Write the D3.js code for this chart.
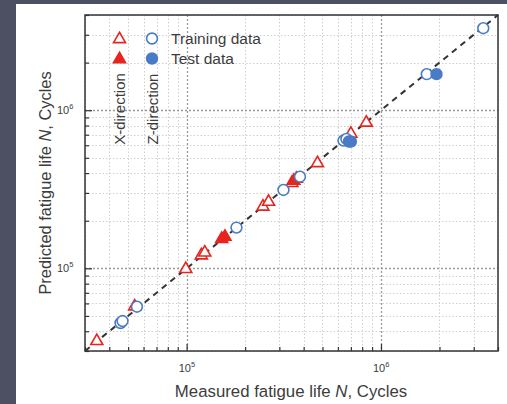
<!doctype html>
<html>
<head>
    <style>
        html, body { margin: 0; padding: 0; background: #4d4f63; }
        #panel { position: absolute; left: 16px; top: 4px; width: 491px; height: 400px; background: #fff; }
        svg { position: absolute; left: 0; top: 0; }
        text { font-family: "Liberation Sans", Arial, sans-serif; fill: #3c3c3c; }
    </style>
</head>
<body>
    <div id="panel"></div>
    <svg id="chart" width="507" height="404"></svg>
    <script src="https://cdnjs.cloudflare.com/ajax/libs/d3/7.8.5/d3.min.js"></script>
    <script>
        // X-direction (triangles) and Z-direction (circles), measured vs predicted cycles
        var xTrainMeasured = [34500, 54000, 99000, 119000, 124000, 247000, 264000, 348000, 471000, 700000, 840000];
        var xTrainPredicted = [35000, 58000, 100000, 122000, 127000, 248000, 266000, 350000, 467000, 717000, 842000];
        var xTestMeasured = [151500, 157500, 356000, 367000];
        var xTestPredicted = [155000, 160000, 362000, 372000];
        var zTrainMeasured = [45700, 46800, 55500, 180500, 315000, 383000, 641000, 664000, 1720000, 3360000];
        var zTrainPredicted = [45100, 46400, 57200, 181000, 313000, 380000, 643000, 658000, 1690000, 3300000];
        var zTestMeasured = [684000, 700000, 1930000];
        var zTestPredicted = [634000, 634000, 1690000];
        var domainMin = 3e4, domainMax = 4e6;
        var majorTicks = [1e5, 1e6];

        var pLeft = 85, pTop = 15, pRight = 498, pBottom = 351;
        var red = '#e8241f', blue = '#4a7bc6';

        var svg = d3.select('#chart');
        var x = d3.scaleLog().domain([domainMin, domainMax]).range([pLeft, pRight]);
        var y = d3.scaleLog().domain([domainMin, domainMax]).range([pBottom, pTop]);

        var allTicks = x.ticks().filter(function(t) { return t >= domainMin && t <= domainMax; });
        var minorTicks = allTicks.filter(function(t) { return majorTicks.indexOf(t) < 0; });

        var grid = svg.append('g');
        grid.selectAll('line.vmin').data(minorTicks).enter().append('line')
            .attr('x1', function(d) { return Math.round(x(d)) + 0.5; })
            .attr('x2', function(d) { return Math.round(x(d)) + 0.5; })
            .attr('y1', pTop).attr('y2', pBottom)
            .attr('stroke', '#cfcfcf').attr('stroke-dasharray', '1.5,2');
        grid.selectAll('line.hmin').data(minorTicks).enter().append('line')
            .attr('y1', function(d) { return Math.round(y(d)) + 0.5; })
            .attr('y2', function(d) { return Math.round(y(d)) + 0.5; })
            .attr('x1', pLeft).attr('x2', pRight)
            .attr('stroke', '#cfcfcf').attr('stroke-dasharray', '1.5,2');
        grid.selectAll('line.vmaj').data(majorTicks).enter().append('line')
            .attr('x1', function(d) { return Math.round(x(d)) + 0.5; })
            .attr('x2', function(d) { return Math.round(x(d)) + 0.5; })
            .attr('y1', pTop).attr('y2', pBottom)
            .attr('stroke', '#999').attr('stroke-width', 1.3).attr('stroke-dasharray', '2,2');
        grid.selectAll('line.hmaj').data(majorTicks).enter().append('line')
            .attr('y1', function(d) { return Math.round(y(d)) + 0.5; })
            .attr('y2', function(d) { return Math.round(y(d)) + 0.5; })
            .attr('x1', pLeft).attr('x2', pRight)
            .attr('stroke', '#999').attr('stroke-width', 1.3).attr('stroke-dasharray', '2,2');

        // axes with inward ticks
        var xAxis = d3.axisTop(x).tickValues(allTicks).tickSize(0).tickFormat('');
        var gx = svg.append('g').attr('transform', 'translate(0,' + pBottom + ')').call(xAxis);
        gx.select('.domain').remove();
        gx.selectAll('.tick').append('line')
            .attr('y2', function(d) { return majorTicks.indexOf(d) >= 0 ? -7 : -4; })
            .attr('stroke', '#333').attr('stroke-width', 1.2);
        var yAxis = d3.axisRight(y).tickValues(allTicks).tickSize(0).tickFormat('');
        var gy = svg.append('g').attr('transform', 'translate(' + pLeft + ',0)').call(yAxis);
        gy.select('.domain').remove();
        gy.selectAll('.tick').append('line')
            .attr('x2', function(d) { return majorTicks.indexOf(d) >= 0 ? 7 : 4; })
            .attr('stroke', '#333').attr('stroke-width', 1.2);

        function powLabel(sel, d) {
            var e = Math.round(Math.log10(d));
            sel.append('tspan').text('10');
            sel.append('tspan').attr('dy', -5).attr('font-size', 7.5).text(e);
        }
        majorTicks.forEach(function(d) {
            var t = svg.append('text').attr('x', x(d) - 8).attr('y', pBottom + 21)
                .attr('font-size', 11);
            powLabel(t, d);
            var t2 = svg.append('text').attr('x', pLeft - 28).attr('y', y(d) + 4)
                .attr('font-size', 11);
            powLabel(t2, d);
        });

        svg.append('rect').attr('x', pLeft).attr('y', pTop)
            .attr('width', pRight - pLeft).attr('height', pBottom - pTop)
            .attr('fill', 'none').attr('stroke', '#333').attr('stroke-width', 1.5);

        // 1:1 line
        svg.append('line')
            .attr('x1', x(domainMin)).attr('y1', y(domainMin))
            .attr('x2', x(domainMax)).attr('y2', y(domainMax))
            .attr('stroke', '#333').attr('stroke-width', 2).attr('stroke-dasharray', '6,5');

        function tri(cx, cy) {
            var w = 6, h = 10.4;
            return 'M' + cx + ',' + (cy - h * 0.6) + 'L' + (cx + w) + ',' + (cy + h * 0.4) +
                'L' + (cx - w) + ',' + (cy + h * 0.4) + 'Z';
        }
        function drawTriangles(xs, ys, filled) {
            svg.append('g').selectAll('path').data(xs).enter().append('path')
                .attr('d', function(d, i) { return tri(x(d), y(ys[i])); })
                .attr('fill', filled ? red : '#fff')
                .attr('stroke', red).attr('stroke-width', 1.6);
        }
        function drawCircles(xs, ys, filled) {
            svg.append('g').selectAll('circle').data(xs).enter().append('circle')
                .attr('cx', function(d) { return x(d); })
                .attr('cy', function(d, i) { return y(ys[i]); })
                .attr('r', 5.4)
                .attr('fill', filled ? blue : '#fff')
                .attr('stroke', blue).attr('stroke-width', 1.6);
        }
        drawTriangles(xTrainMeasured, xTrainPredicted, false);
        drawTriangles(xTestMeasured, xTestPredicted, true);
        drawCircles(zTrainMeasured, zTrainPredicted, false);
        drawCircles(zTestMeasured, zTestPredicted, true);

        // legend
        var lg = svg.append('g');
        lg.append('path').attr('d', tri(119.5, 38.5)).attr('fill', '#fff').attr('stroke', red).attr('stroke-width', 1.6);
        lg.append('path').attr('d', tri(119.5, 58.5)).attr('fill', red).attr('stroke', red).attr('stroke-width', 1.6);
        lg.append('circle').attr('cx', 152).attr('cy', 38.5).attr('r', 5.4).attr('fill', '#fff').attr('stroke', blue).attr('stroke-width', 1.6);
        lg.append('circle').attr('cx', 152).attr('cy', 58.5).attr('r', 5.4).attr('fill', blue).attr('stroke', blue).attr('stroke-width', 1.6);
        lg.append('text').attr('x', 171).attr('y', 44).attr('font-size', 15.5).text('Training data');
        lg.append('text').attr('x', 171).attr('y', 64).attr('font-size', 15.5).text('Test data');
        lg.append('text').attr('transform', 'translate(125,109) rotate(-90)')
            .attr('text-anchor', 'middle').attr('font-size', 15).text('X-direction');
        lg.append('text').attr('transform', 'translate(158,109) rotate(-90)')
            .attr('text-anchor', 'middle').attr('font-size', 15).text('Z-direction');

        // axis titles
        var xt = svg.append('text').attr('x', 291).attr('y', 397).attr('text-anchor', 'middle').attr('font-size', 16.8);
        xt.append('tspan').text('Measured fatigue life ');
        xt.append('tspan').attr('font-style', 'italic').text('N');
        xt.append('tspan').text(', Cycles');
        var yt = svg.append('text').attr('transform', 'translate(51,183) rotate(-90)').attr('text-anchor', 'middle').attr('font-size', 16.4);
        yt.append('tspan').text('Predicted fatigue life ');
        yt.append('tspan').attr('font-style', 'italic').text('N');
        yt.append('tspan').text(', Cycles');
    </script>
</body>
</html>
